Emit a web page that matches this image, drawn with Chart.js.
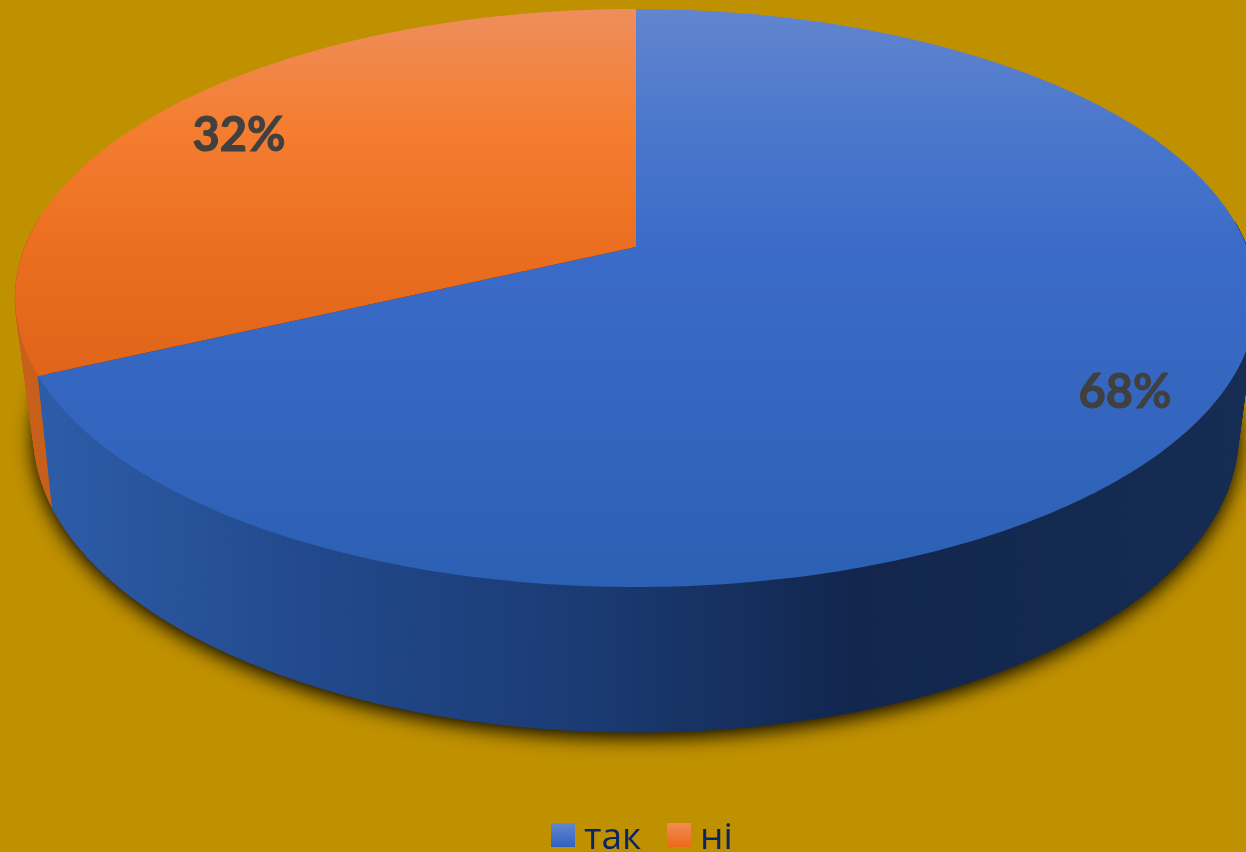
<!DOCTYPE html>
<html>
<head>
<meta charset="utf-8">
<title>так / ні</title>
<script src="https://cdn.jsdelivr.net/npm/chart.js@4"></script>
<style>
  html, body { margin: 0; padding: 0; width: 1246px; height: 852px; overflow: hidden; background: #bf9000; }
  #wrap { position: relative; width: 1246px; height: 852px; overflow: hidden; }
  canvas { display: block; }
  #legend { position: absolute; left: 0; top: 0; font-family: "Open Sans", sans-serif; font-size: 37px; color: #0a2566; }
  #legend span { position: absolute; line-height: 50px; top: 810px; white-space: nowrap; }
  #legend i { position: absolute; top: 823px; width: 24px; height: 24px; }
</style>
</head>
<body>
<div id="wrap">
  <canvas id="myChart" width="1246" height="852"></canvas>
  <div id="legend"></div>
</div>
<script>
// Chart data
const categories = ["так", "ні"];
const seriesValues = [68, 32];
const percentLabels = ["68%", "32%"];

// how far out on the slice each percent label sits (0 = tip, 1 = rim)
const labelRadius = [0.87, 0.83];

// colours, per slice: top face gradient, wall, legend swatch
const topStops = [
  [[0, "#6285ce"], [0.21, "#4a77cc"], [0.42, "#3b6bc8"], [1, "#2b60b4"]],
  [[0, "#ee8e5c"], [0.33, "#f47d2f"], [0.66, "#eb6e20"], [1, "#e06518"]],
];
const wallStops = [
  [[0, "#2e5da9"], [0.22, "#234a8e"], [0.47, "#1a3a72"], [0.68, "#12264e"], [1, "#162c52"]],
  [[0, "#c85f1a"], [1, "#c85f1a"]],
];
const swatches = [
  "linear-gradient(#6487d0, #2f62bf)",
  "linear-gradient(#f28c55, #ec6a18)",
];

// perspective of the disc: screen point for a chart angle
function topFace(a) {
  const w = 1 - 0.1765 * Math.sin(a);
  return [636 + (611 * Math.cos(a)) / w, 247 + (280 * Math.sin(a)) / w];
}
function bottomFace(a) {
  const w = 1 - 0.2 * Math.sin(a);
  return [636 + (590 * Math.cos(a)) / w, 375 + (285.6 * Math.sin(a)) / w];
}

function gradient(ctx, x0, y0, x1, y1, stops) {
  const g = ctx.createLinearGradient(x0, y0, x1, y1);
  stops.forEach((s) => g.addColorStop(s[0], s[1]));
  return g;
}

const STEP = Math.PI / 240;

const pie3d = {
  id: "pie3d",
  beforeDatasetsDraw(chart) {
    const ctx = chart.ctx;
    const arcs = chart.getDatasetMeta(0).data;
    ctx.save();

    // soft shadow under the disc
    ctx.save();
    ctx.shadowColor = "rgba(0, 0, 0, 1)";
    ctx.shadowBlur = 20;
    ctx.shadowOffsetY = 5;
    ctx.fillStyle = "#222";
    ctx.beginPath();
    for (let a = 0; a < Math.PI * 2; a += STEP) {
      const p = bottomFace(a);
      ctx.lineTo(p[0], p[1]);
    }
    ctx.closePath();
    ctx.fill();
    ctx.restore();

    // walls, painted strip by strip; orange goes first so blue keeps the edge
    for (let i = arcs.length - 1; i >= 0; i--) {
      const arc = arcs[i];
      const g = gradient(ctx, 30, 0, 1240, 0, wallStops[i]);
      ctx.fillStyle = g;
      ctx.strokeStyle = g;
      ctx.lineWidth = 1;
      for (let a = arc.startAngle; a < arc.endAngle; a += STEP) {
        if (Math.sin(a) < -0.1) continue; // back side, hidden by the top face
        const b = Math.min(a + STEP, arc.endAngle);
        const p = [topFace(a), topFace(b), bottomFace(b), bottomFace(a)];
        ctx.beginPath();
        p.forEach((q) => ctx.lineTo(q[0], q[1]));
        ctx.closePath();
        ctx.fill();
        ctx.stroke();
      }
    }

    // top faces
    arcs.forEach((arc, i) => {
      const y1 = i === 0 ? 587 : 375;
      ctx.fillStyle = gradient(ctx, 0, 9, 0, y1, topStops[i]);
      ctx.beginPath();
      ctx.moveTo(636, 247);
      for (let a = arc.startAngle; a < arc.endAngle; a += STEP) {
        const p = topFace(a);
        ctx.lineTo(p[0], p[1]);
      }
      const e = topFace(arc.endAngle);
      ctx.lineTo(e[0], e[1]);
      ctx.closePath();
      ctx.fill();
    });

    // percent labels
    ctx.font = 'bold 47px Lato, "Open Sans", sans-serif';
    ctx.fillStyle = "#404040";
    ctx.strokeStyle = "#404040";
    ctx.lineWidth = 1;
    ctx.textAlign = "center";
    ctx.textBaseline = "middle";
    arcs.forEach((arc, i) => {
      const mid = (arc.startAngle + arc.endAngle) / 2;
      const r = labelRadius[i];
      const w = 1 - 0.1765 * r * Math.sin(mid);
      const x = 636 + (611 * r * Math.cos(mid)) / w;
      const y = 247 + (280 * r * Math.sin(mid)) / w + 4;
      ctx.fillText(percentLabels[i], x, y);
      ctx.strokeText(percentLabels[i], x, y);
    });

    ctx.restore();
    return false;
  },
};

const myChart = new Chart(document.getElementById("myChart"), {
  type: "pie",
  data: {
    labels: categories,
    datasets: [
      {
        data: seriesValues,
        backgroundColor: ["#3b6bc8", "#f47d2f"],
        borderWidth: 0,
      },
    ],
  },
  options: {
    responsive: false,
    animation: false,
    plugins: {
      legend: { display: false },
      tooltip: { enabled: false },
    },
  },
  plugins: [pie3d],
});

// html legend, Chart.js puts the text too far from the box at this size
const legendEl = document.getElementById("legend");
const swatchX = [551, 667];
const textX = [584, 700];
categories.forEach((name, i) => {
  const box = document.createElement("i");
  box.style.left = swatchX[i] + "px";
  box.style.background = swatches[i];
  const text = document.createElement("span");
  text.style.left = textX[i] + "px";
  text.textContent = name;
  legendEl.append(box, text);
});
</script>
</body>
</html>
